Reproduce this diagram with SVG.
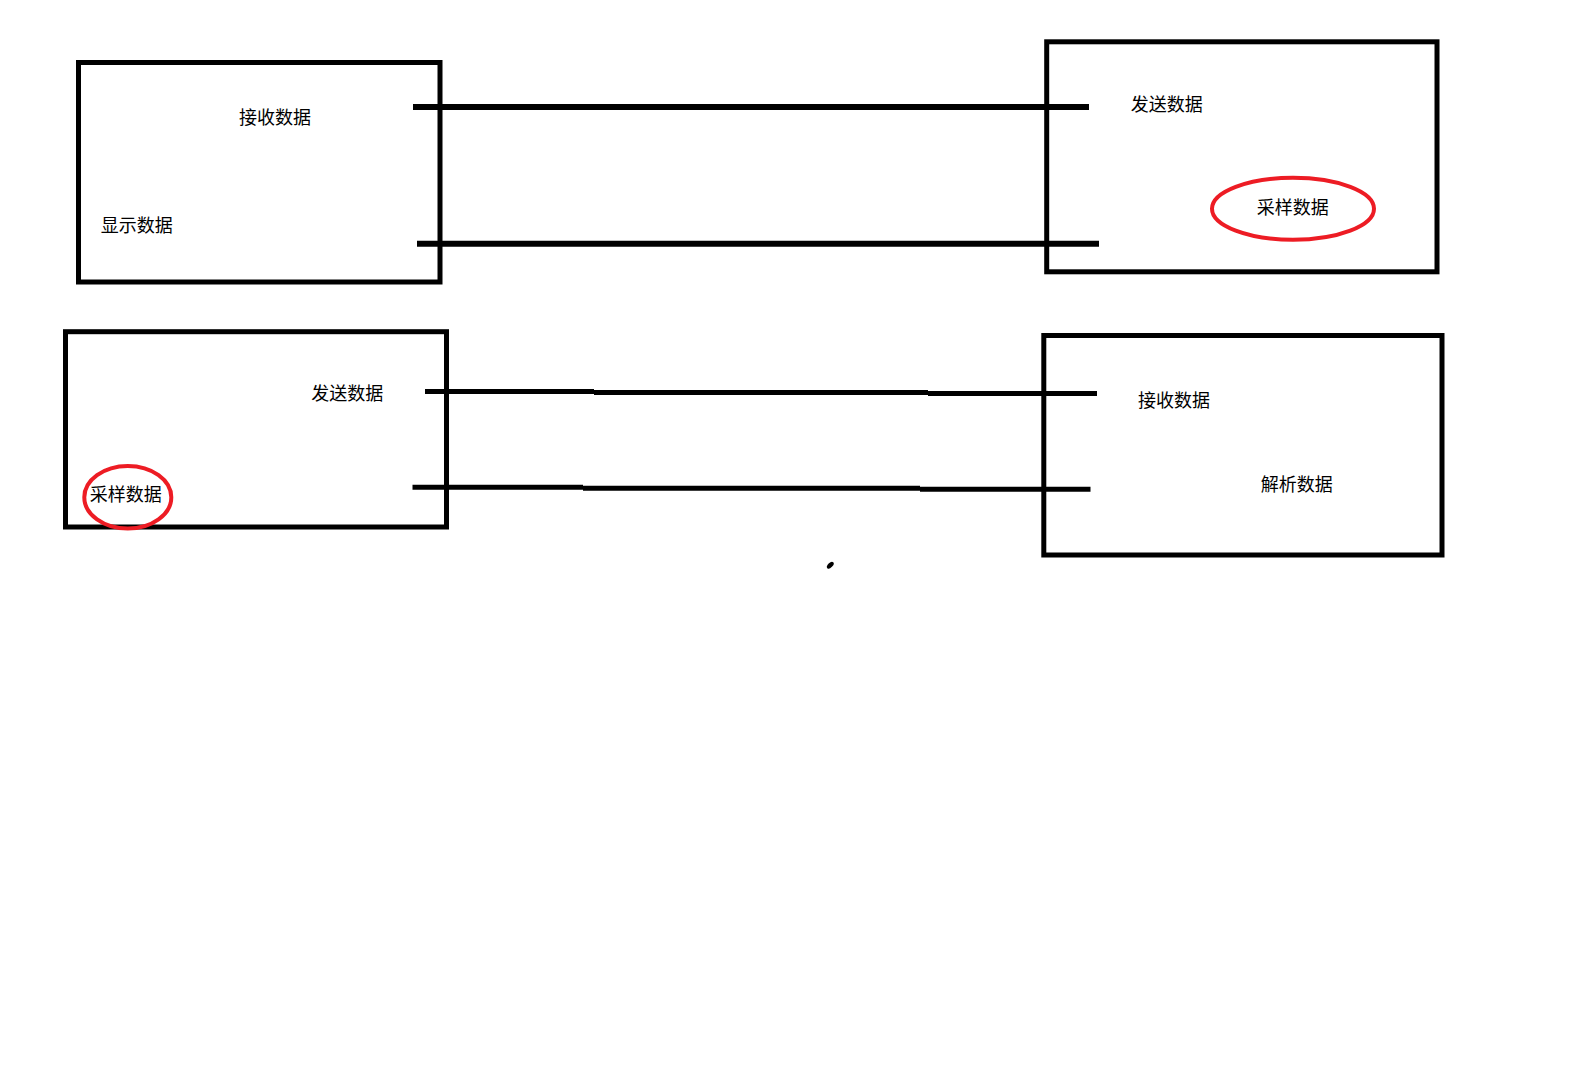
<svg xmlns="http://www.w3.org/2000/svg" width="1580" height="1078" viewBox="0 0 1580 1078">
<style>
.box{fill:none;stroke:#000;stroke-width:5}
.lbl{font-family:"Noto Sans CJK SC","Noto Sans",sans-serif;font-size:18px;fill:#000}
.ring{fill:none;stroke:#ed1c24;stroke-width:4}
.wire{fill:none;stroke:#000;stroke-width:6;stroke-linecap:butt}
.wire2{fill:none;stroke:#000;stroke-width:5;stroke-linecap:butt}
</style>
<rect width="1580" height="1078" fill="#fff"/>
<g id="connectors">
<line class="wire" x1="413" y1="107" x2="1089" y2="107"/>
<line class="wire" x1="417" y1="243.7" x2="1099" y2="243.7"/>
<line class="wire2" x1="425" y1="391.5" x2="594" y2="391.5" stroke-linecap="round"/>
<line class="wire2" x1="594" y1="392.5" x2="928" y2="392.5"/>
<line class="wire2" x1="928" y1="393.4" x2="1097" y2="393.4" stroke-linecap="round"/>
<line class="wire2" x1="412.5" y1="487.2" x2="583" y2="487.2" stroke-linecap="round"/>
<line class="wire2" x1="583" y1="488.2" x2="920" y2="488.2"/>
<line class="wire2" x1="920" y1="489.2" x2="1090.5" y2="489.2" stroke-linecap="round"/>
</g>
<g id="node-1">
<rect class="box" x="78.5" y="62.5" width="361.5" height="219.5"/>
<text class="lbl" x="239" y="124">接收数据</text>
<text class="lbl" x="100.7" y="232">显示数据</text>
</g>
<g id="node-2">
<rect class="box" x="1046.7" y="41.8" width="390.3" height="230"/>
<text class="lbl" x="1130.7" y="111">发送数据</text>
<ellipse class="ring" cx="1293" cy="208.8" rx="81" ry="31"/>
<text class="lbl" x="1256.7" y="214">采样数据</text>
</g>
<g id="node-3">
<rect class="box" x="65.5" y="331.7" width="381" height="195.3"/>
<text class="lbl" x="311.3" y="400">发送数据</text>
<ellipse class="ring" cx="127.8" cy="497.3" rx="43.5" ry="31.3"/>
<text class="lbl" x="89.7" y="500.5">采样数据</text>
</g>
<g id="node-4">
<rect class="box" x="1043.8" y="335.5" width="398.2" height="219.5"/>
<text class="lbl" x="1138" y="407">接收数据</text>
<text class="lbl" x="1260.7" y="490.5">解析数据</text>
</g>
<ellipse cx="830.3" cy="565.2" rx="4.2" ry="2.3" transform="rotate(-45 830.3 565.2)" fill="#000"/>
</svg>
